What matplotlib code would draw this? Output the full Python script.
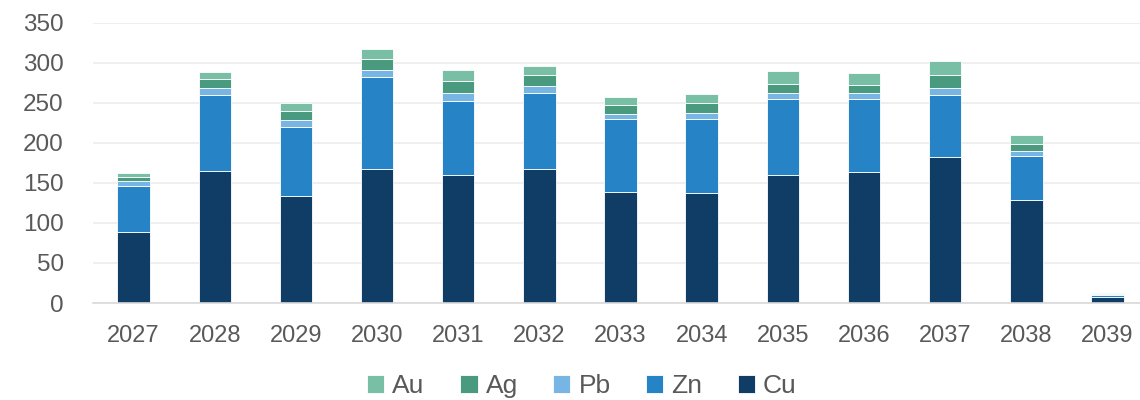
import matplotlib.pyplot as plt
import numpy as np

years = ["2027", "2028", "2029", "2030", "2031", "2032", "2033",
         "2034", "2035", "2036", "2037", "2038", "2039"]
cu = [88.2, 164.8, 133.2, 166.9, 159.4, 167.3, 138.2, 137.8, 159.4, 164.0, 181.9, 129.0, 7.1]
zn = [58.3, 95.3, 87.0, 115.7, 93.2, 95.3, 91.1, 92.4, 95.7, 91.1, 78.2, 55.0, 3.3]
pb = [5.8, 8.3, 8.3, 8.3, 9.6, 8.3, 7.1, 7.5, 7.1, 6.7, 8.3, 5.8, 0.5]
ag = [5.4, 11.7, 11.6, 13.3, 15.0, 14.2, 11.2, 12.4, 11.7, 10.8, 16.7, 9.1, 0.8]
au = [4.6, 8.7, 10.0, 13.4, 13.7, 10.8, 9.6, 10.4, 15.8, 14.2, 16.6, 11.3, 0.8]

series = [("Cu", cu, "#0f3d66"), ("Zn", zn, "#2683c6"), ("Pb", pb, "#77b5e5"),
          ("Ag", ag, "#4a9a7f"), ("Au", au, "#78bfa5")]

plt.rcParams["font.family"] = ["Liberation Sans", "DejaVu Sans"]

fig = plt.figure(figsize=(11.4, 4.0), dpi=100)
ax = fig.add_axes([93 / 1140, 97 / 400, 1055 / 1140, 280.3 / 400])

x = np.arange(len(years))
bottom = np.zeros(len(years))
handles = {}
for name, vals, color in series:
    vals = np.array(vals)
    bars = ax.bar(x, vals, 0.4, bottom=bottom, color=color,
                  edgecolor="#ffffff", linewidth=0.6, zorder=3, label=name)
    handles[name] = bars
    bottom += vals

ax.set_xlim(-0.5, len(years) - 0.5)
ax.set_ylim(0, 350)
ax.set_yticks(np.arange(0, 351, 50))
ax.set_xticks(x)
ax.set_xticklabels(years)
ax.tick_params(axis="both", length=0, labelsize=17, labelcolor="#595959")
ax.tick_params(axis="y", labelsize=17.5, pad=21)
ax.tick_params(axis="x", pad=16)
ax.grid(axis="y", color="#ececec", linewidth=1.2, zorder=0)
for s in ["top", "right", "left"]:
    ax.spines[s].set_visible(False)
ax.spines["bottom"].set_color("#d9d9d9")
ax.spines["bottom"].set_linewidth(1.2)
ax.spines["bottom"].set_zorder(4)

order = ["Au", "Ag", "Pb", "Zn", "Cu"]
leg = fig.legend([handles[n] for n in order], order, loc="center",
                 bbox_to_anchor=(582 / 1140, 1 - 386 / 400), ncol=5, frameon=False,
                 fontsize=19, handlelength=0.65, handleheight=0.65,
                 handletextpad=0.3, columnspacing=1.35)
for t in leg.get_texts():
    t.set_color("#595959")

fig.savefig("out.png", dpi=100)
